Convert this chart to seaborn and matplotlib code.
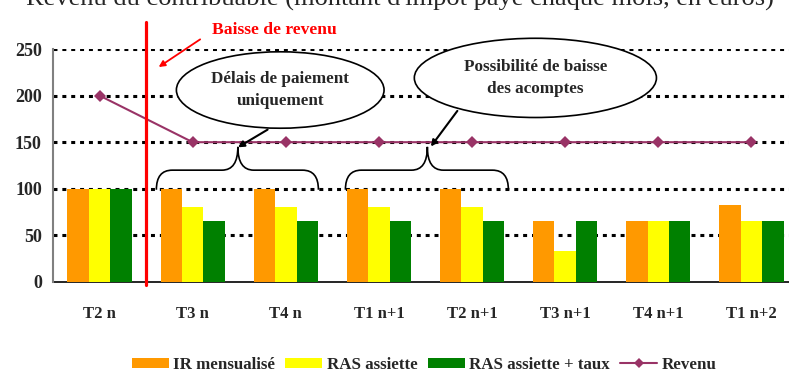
import numpy as np
import pandas as pd
import seaborn as sns
import matplotlib
matplotlib.use("Agg")
import matplotlib.pyplot as plt
from matplotlib.patches import Ellipse, PathPatch, Patch
from matplotlib.path import Path
from matplotlib.lines import Line2D

# Quarterly amounts
periods = ["T2 n", "T3 n", "T4 n", "T1 n+1", "T2 n+1", "T3 n+1", "T4 n+1", "T1 n+2"]
ir_mensualise = [100, 100, 100, 100, 100, 65, 65, 83]
ras_assiette = [100, 80, 80, 80, 80, 33, 65, 65]
ras_assiette_taux = [100, 65, 65, 65, 65, 65, 65, 65]
revenu = [200, 150, 150, 150, 150, 150, 150, 150]

series_names = ["IR mensualisé", "RAS assiette", "RAS assiette + taux"]
series_colors = ["#FF9900", "#FFFF00", "#008000"]
line_color = "#993366"
yticks = [0, 50, 100, 150, 200, 250]

df = pd.DataFrame({
    "period": periods * 3,
    "value": ir_mensualise + ras_assiette + ras_assiette_taux,
    "series": sum([[s] * len(periods) for s in series_names], []),
})

sns.set_theme(style="white")
plt.rcParams["font.family"] = ["Liberation Serif", "DejaVu Serif"]

W, H = 789, 374
fig = plt.figure(figsize=(W / 100, H / 100), dpi=100)
ax_left, ax_right, ax_bottom, ax_top = 53, 798, 282, 49
ax = fig.add_axes([ax_left / W, 1 - ax_bottom / H, (ax_right - ax_left) / W, (ax_bottom - ax_top) / H])

sns.barplot(data=df, x="period", y="value", hue="series", order=periods,
            hue_order=series_names, palette=series_colors, width=0.69,
            gap=0, saturation=1, linewidth=0, ax=ax, legend=False, zorder=3)

sns.lineplot(x=np.arange(len(periods)), y=revenu, color=line_color, marker="D",
             markersize=6.5, markeredgewidth=0, linewidth=1.5, ax=ax, zorder=4)

ax.set_xlim(-0.5, len(periods) - 0.5)
ax.set_ylim(0, 250)
ax.set_yticks(yticks)
ax.set_yticklabels([str(v) for v in yticks], fontsize=13, fontweight="bold")
ax.set_xticks(np.arange(len(periods)))
ax.set_xticklabels(periods, fontsize=12, fontweight="bold")
ax.set_xlabel("")
ax.set_ylabel("")

# Category boundary ticks on the x axis
ax.set_xticks(np.arange(len(periods) + 1) - 0.5, minor=True)
ax.tick_params(axis="x", which="major", length=0, pad=17)
ax.tick_params(axis="x", which="minor", length=5, width=1, color="#333333", direction="out")
ax.tick_params(axis="y", length=5, width=1, color="#808080", direction="out", pad=3)

for v in yticks[1:]:
    ax.axhline(v, color="black", linewidth=2.2, linestyle=(0, (1.3, 1.6)), zorder=2)

for side in ["top", "right"]:
    ax.spines[side].set_visible(False)
ax.spines["left"].set_color("#808080")
ax.spines["left"].set_linewidth(1.5)
ax.spines["bottom"].set_color("black")
ax.spines["bottom"].set_linewidth(1.2)
ax.spines["left"].set_zorder(5)

# Income drop marker
ax.plot([0.5, 0.5], [-3, 279], color="#FF0000", linewidth=2.3, clip_on=False, zorder=6)
ax.text(1.21, 270, "Baisse de revenu", color="#FF0000", fontsize=12.6, fontweight="bold",
        ha="left", va="center", clip_on=False)
ax.annotate("", xy=(0.61, 229), xytext=(1.105, 262),
            arrowprops=dict(arrowstyle="-|>", color="#FF0000", lw=1.3, mutation_scale=9),
            annotation_clip=False)


def brace(x0, x1, xm, yb=99, ym=120, yt=145, dx=0.17):
    verts = [(x0, yb), (x0, ym), (x0 + dx, ym), (xm - dx, ym), (xm, ym), (xm, yt),
             (xm, ym), (xm + dx, ym), (x1 - dx, ym), (x1, ym), (x1, yb)]
    codes = [Path.MOVETO, Path.CURVE3, Path.CURVE3, Path.LINETO, Path.CURVE3, Path.CURVE3,
             Path.CURVE3, Path.CURVE3, Path.LINETO, Path.CURVE3, Path.CURVE3]
    ax.add_patch(PathPatch(Path(verts, codes), facecolor="none", edgecolor="black",
                           linewidth=1.2, zorder=7, clip_on=False))


brace(0.61, 2.35, 1.485)
brace(2.64, 4.39, 3.52)

# Callout bubbles
for (cx, cy, w, h, label, start, end) in [
    (1.94, 206, 2.23, 82, "Délais de paiement\nuniquement", (1.83, 165), (1.46, 143)),
    (4.68, 219, 2.60, 85, "Possibilité de baisse\ndes acomptes", (3.86, 186), (3.54, 143)),
]:
    ax.add_patch(Ellipse((cx, cy), w, h, facecolor="white", edgecolor="black",
                         linewidth=1.2, zorder=8, clip_on=False))
    ax.text(cx, cy, label, ha="center", va="center", fontsize=12.3, fontweight="bold",
            linespacing=1.45, zorder=9)
    ax.annotate("", xy=end, xytext=start,
                arrowprops=dict(arrowstyle="-|>", color="black", lw=1.5, mutation_scale=9),
                annotation_clip=False, zorder=9)

fig.text(400 / W, 1 - 6 / H, "Revenu du contribuable (montant d'impôt payé chaque mois, en euros)",
         ha="center", va="baseline", fontsize=19)

handles = [Patch(facecolor=c, edgecolor="none") for c in series_colors]
handles.append(Line2D([], [], color=line_color, marker="D", markersize=5.5, linewidth=1.5,
                      markeredgewidth=0))
leg = fig.legend(handles, series_names + ["Revenu"], loc="center", ncol=4,
                 bbox_to_anchor=(424 / W, 1 - 365 / H), frameon=False,
                 prop=dict(weight="bold", size=12.2), handlelength=2.2, handleheight=0.6,
                 handletextpad=0.25, columnspacing=0.6)

fig.savefig("out.png", dpi=100)
